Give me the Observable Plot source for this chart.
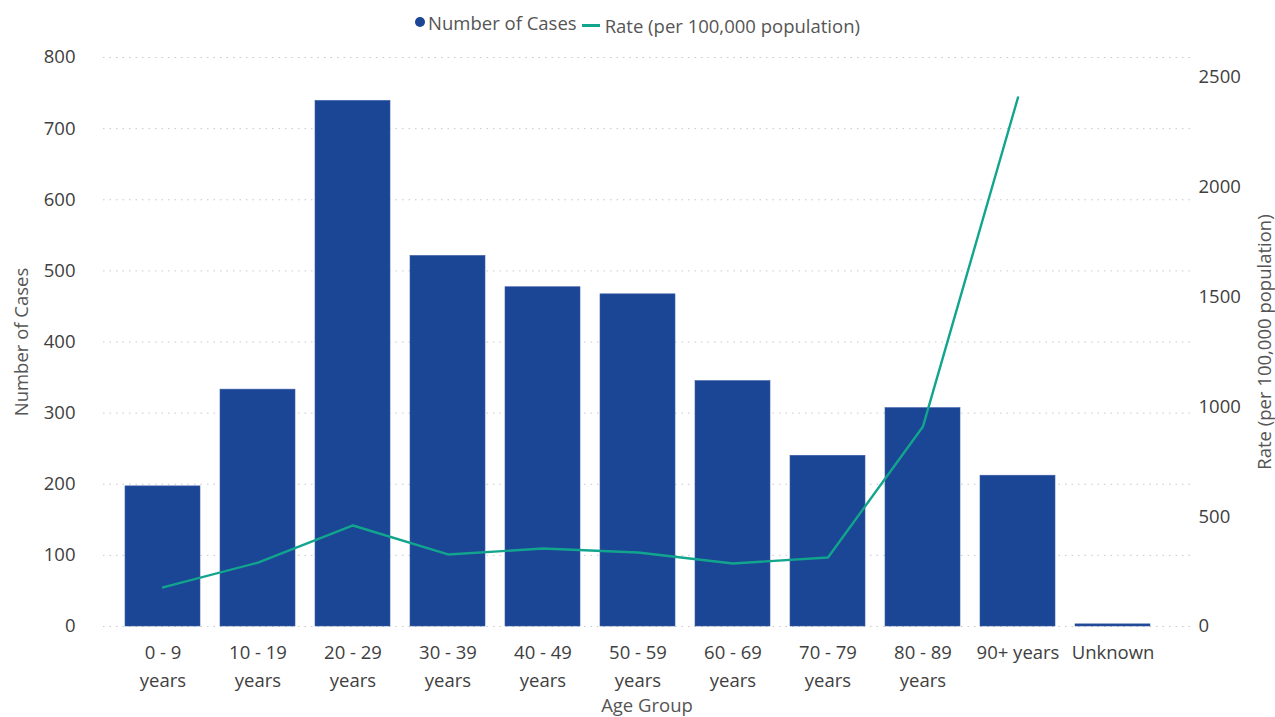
<!DOCTYPE html>
<html>
<head>
<meta charset="utf-8">
<script src="https://cdn.jsdelivr.net/npm/d3@7"></script>
<script src="https://cdn.jsdelivr.net/npm/@observablehq/plot@0.6"></script>
<style>
  body { margin: 0; background: #fff; font-family: "Segoe UI", "Open Sans", "Noto Sans", sans-serif; }
  #wrap { position: relative; width: 1275px; height: 717px; }
  #legend { position: absolute; top: 7px; left: 0; width: 1275px; text-align: center; font-size: 18.5px; color: #555; white-space: nowrap; }
  #legend span.item { display: inline-flex; align-items: center; }
  #legend .dot { display: inline-block; width: 10px; height: 10px; border-radius: 50%; background: #1b4595; margin-right: 3px; }
  #legend .ln { display: inline-block; width: 18px; height: 3px; background: #12a58d; margin: 0 5px 0 5px; }
</style>
</head>
<body>
<div id="wrap">
  <div id="legend"><span class="item"><span class="dot"></span>Number of Cases</span><span class="item"><span class="ln"></span>Rate (per 100,000 population)</span></div>
  <div id="chart"></div>
</div>
<script>
const ageGroups = ["0 - 9 years", "10 - 19 years", "20 - 29 years", "30 - 39 years", "40 - 49 years", "50 - 59 years", "60 - 69 years", "70 - 79 years", "80 - 89 years", "90+ years", "Unknown"];
const tickLabels = ["0 - 9\nyears", "10 - 19\nyears", "20 - 29\nyears", "30 - 39\nyears", "40 - 49\nyears", "50 - 59\nyears", "60 - 69\nyears", "70 - 79\nyears", "80 - 89\nyears", "90+ years", "Unknown"];
const cases = [197, 333, 739, 521, 477, 467, 345, 240, 307, 212, 3];
const rates = [178, 291, 460, 328, 355, 337, 287, 314, 911, 2409, null];
const leftTicks = [0, 100, 200, 300, 400, 500, 600, 700, 800];
const rightTicks = [0, 500, 1000, 1500, 2000, 2500];

const leftMax = 800;
const rightMax = 2591;
const k = leftMax / rightMax;

const data = ageGroups.map((a, i) => ({age: a, label: tickLabels[i], cases: cases[i], rate: rates[i]}));
const lineData = data.filter(d => d.rate != null);

const tickColor = "#404040";
const titleColor = "#555";
const fs = 18.5;
const font = "'Segoe UI', 'Open Sans', 'Noto Sans', sans-serif";

const chart = Plot.plot({
  width: 1275,
  height: 717,
  marginTop: 57,
  marginBottom: 91,
  marginLeft: 103,
  marginRight: 85,
  style: {fontFamily: font, fontSize: fs + "px", background: "transparent"},
  x: {domain: ageGroups, paddingInner: 0.21, paddingOuter: 0.11, insetLeft: 10, insetRight: 27, axis: null},
  y: {domain: [0, leftMax], axis: null},
  marks: [
    Plot.gridY(leftTicks, {stroke: "#c8c8c8", strokeOpacity: 1, strokeDasharray: "1.5,5"}),
    Plot.barY(data, {x: "age", y: "cases", fill: "#1b4595", stroke: "#3a5ea6", strokeWidth: 0.6}),
    Plot.line(lineData, {x: "age", y: d => d.rate * k, stroke: "#12a58d", strokeWidth: 2.4}),
    Plot.text(leftTicks, {y: d => d, text: d => String(d), frameAnchor: "left", textAnchor: "end", dx: -28, fill: tickColor, fontSize: fs}),
    Plot.text(rightTicks, {y: d => d * k, text: d => String(d), frameAnchor: "right", textAnchor: "start", dx: 8, fill: tickColor, fontSize: fs}),
    Plot.text(data, {x: "age", text: "label", frameAnchor: "bottom", lineAnchor: "top", dy: 13, lineHeight: 1.5, fill: tickColor, fontSize: fs}),
    Plot.text(["Age Group"], {frameAnchor: "bottom", dy: 80, lineAnchor: "middle", textAnchor: "middle", fill: titleColor, fontSize: fs}),
    Plot.text(["Number of Cases"], {frameAnchor: "left", dx: -81, rotate: -90, textAnchor: "middle", fill: titleColor, fontSize: fs, lineAnchor: "middle"}),
    Plot.text(["Rate (per 100,000 population)"], {frameAnchor: "right", dx: 75, rotate: -90, textAnchor: "middle", fill: titleColor, fontSize: fs, lineAnchor: "middle"})
  ]
});
document.getElementById("chart").appendChild(chart);
</script>
</body>
</html>
